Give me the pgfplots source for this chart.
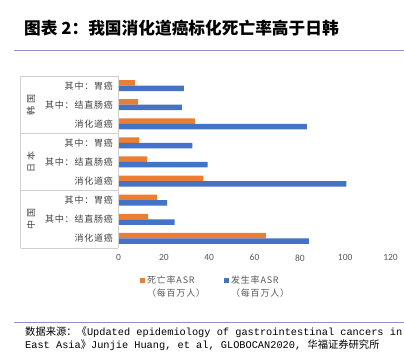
\documentclass[border=0pt]{standalone}
\usepackage{fontspec}
\usepackage{pgfplots}
\pgfplotsset{compat=1.18}
\setmainfont{Noto Sans CJK SC}
\newfontfamily\cjksp[LetterSpace=9]{Noto Sans CJK SC}
\newfontfamily\numfont{Carlito}
\newfontfamily\mono{Liberation Mono}
\definecolor{cOr}{HTML}{ED7D31}
\definecolor{cBl}{HTML}{4472C4}
\definecolor{lineblue}{HTML}{8C8FD1}
\definecolor{tgray}{HTML}{595959}
\definecolor{lgray}{HTML}{D0D0D0}
\definecolor{labgray}{HTML}{404040}
\begin{document}
\begin{tikzpicture}[x=1pt,y=1pt]
\useasboundingbox (0,0) rectangle (404,358);
\node[anchor=west, font=\bfseries\fontsize{16.7}{18}\selectfont, inner sep=0pt] at (24,330) {图表 2：我国消化道癌标化死亡率高于日韩};
\draw[lineblue, line width=1pt] (14,307) -- (404,307);
\draw[lineblue, line width=1pt] (14,35.3) -- (404,35.3);
\begin{scope}
\clip (0,0) rectangle (404,358);
\node[anchor=west, inner sep=0pt, font=\fontsize{10.3}{12}\selectfont] at (25,25.3) {数据来源：《{\mono Updated epidemiology of gastrointestinal cancers in}};
\node[anchor=west, inner sep=0pt, font=\fontsize{10.3}{12}\selectfont] at (25,13) {{\mono East Asia}》{\mono Junjie Huang, et al, GLOBOCAN2020, }华福证券研究所};
\end{scope}
\begin{axis}[
  at={(118.5pt,110pt)}, anchor=south west, scale only axis,
  width=272pt, height=172pt,
  xbar, bar width=5.5pt,
  xmin=0, xmax=120, ymin=-0.5, ymax=8.5,
  xtick={0,20,...,120},
  ytick={0,...,8},
  yticklabels={消化道癌,其中：结直肠癌,其中：胃癌,消化道癌,其中：结直肠癌,其中：胃癌,消化道癌,其中：结直肠癌,其中：胃癌},
  axis line style={draw=none},
  major tick length=0pt,
  /pgf/number format/assume math mode=true,
  xticklabel style={font=\numfont\fontsize{9.5}{10}\selectfont, text=tgray, yshift=-3pt},
  yticklabel style={font=\cjksp\fontsize{9}{10}\selectfont, text=labgray, xshift=-2pt},
  clip=false,
  legend style={at={(axis description cs:0.357,-0.14)}, anchor=north, draw=none,
    legend columns=2, font=\cjksp\fontsize{9}{12.5}\selectfont, text=tgray,
    /tikz/every even column/.append style={column sep=17pt},
    nodes={align=left}},
  legend image code/.code={\fill[#1] (0pt,4pt) rectangle (5pt,9pt);},
]
\addplot[fill=cOr, draw=none, bar shift=2.75pt] coordinates {
(65.0,0) (13.1,1) (17.0,2) (37.4,3) (12.6,4) (9.1,5) (33.7,6) (8.7,7) (7.2,8)};
\addlegendentry{死亡率ASR\\ （每百万人）}
\addplot[fill=cBl, draw=none, bar shift=-2.75pt] coordinates {
(84.0,0) (24.8,1) (21.4,2) (100.5,3) (39.3,4) (32.6,5) (83.1,6) (28.0,7) (28.8,8)};
\addlegendentry{发生率ASR\\ （每百万人）}
\draw[lgray] (rel axis cs:-0.36,0) -- (rel axis cs:-0.36,1);
\draw[lgray] (rel axis cs:0,0) -- (rel axis cs:0,1);
\draw[lgray] (rel axis cs:-0.36,0) -- (rel axis cs:0,0);
\draw[lgray] (rel axis cs:-0.36,0.3333) -- (rel axis cs:0,0.3333);
\draw[lgray] (rel axis cs:-0.36,0.6667) -- (rel axis cs:0,0.6667);
\draw[lgray] (rel axis cs:-0.36,1) -- (rel axis cs:0,1);
\node[rotate=90, font=\fontsize{9}{10}\selectfont, text=labgray] at (rel axis cs:-0.322,0.8333) {韩\hspace{3pt}国};
\node[rotate=90, font=\fontsize{9}{10}\selectfont, text=labgray] at (rel axis cs:-0.322,0.5) {日\hspace{3pt}本};
\node[rotate=90, font=\fontsize{9}{10}\selectfont, text=labgray] at (rel axis cs:-0.322,0.1667) {中\hspace{3pt}国};
\end{axis}
\end{tikzpicture}
\end{document}
